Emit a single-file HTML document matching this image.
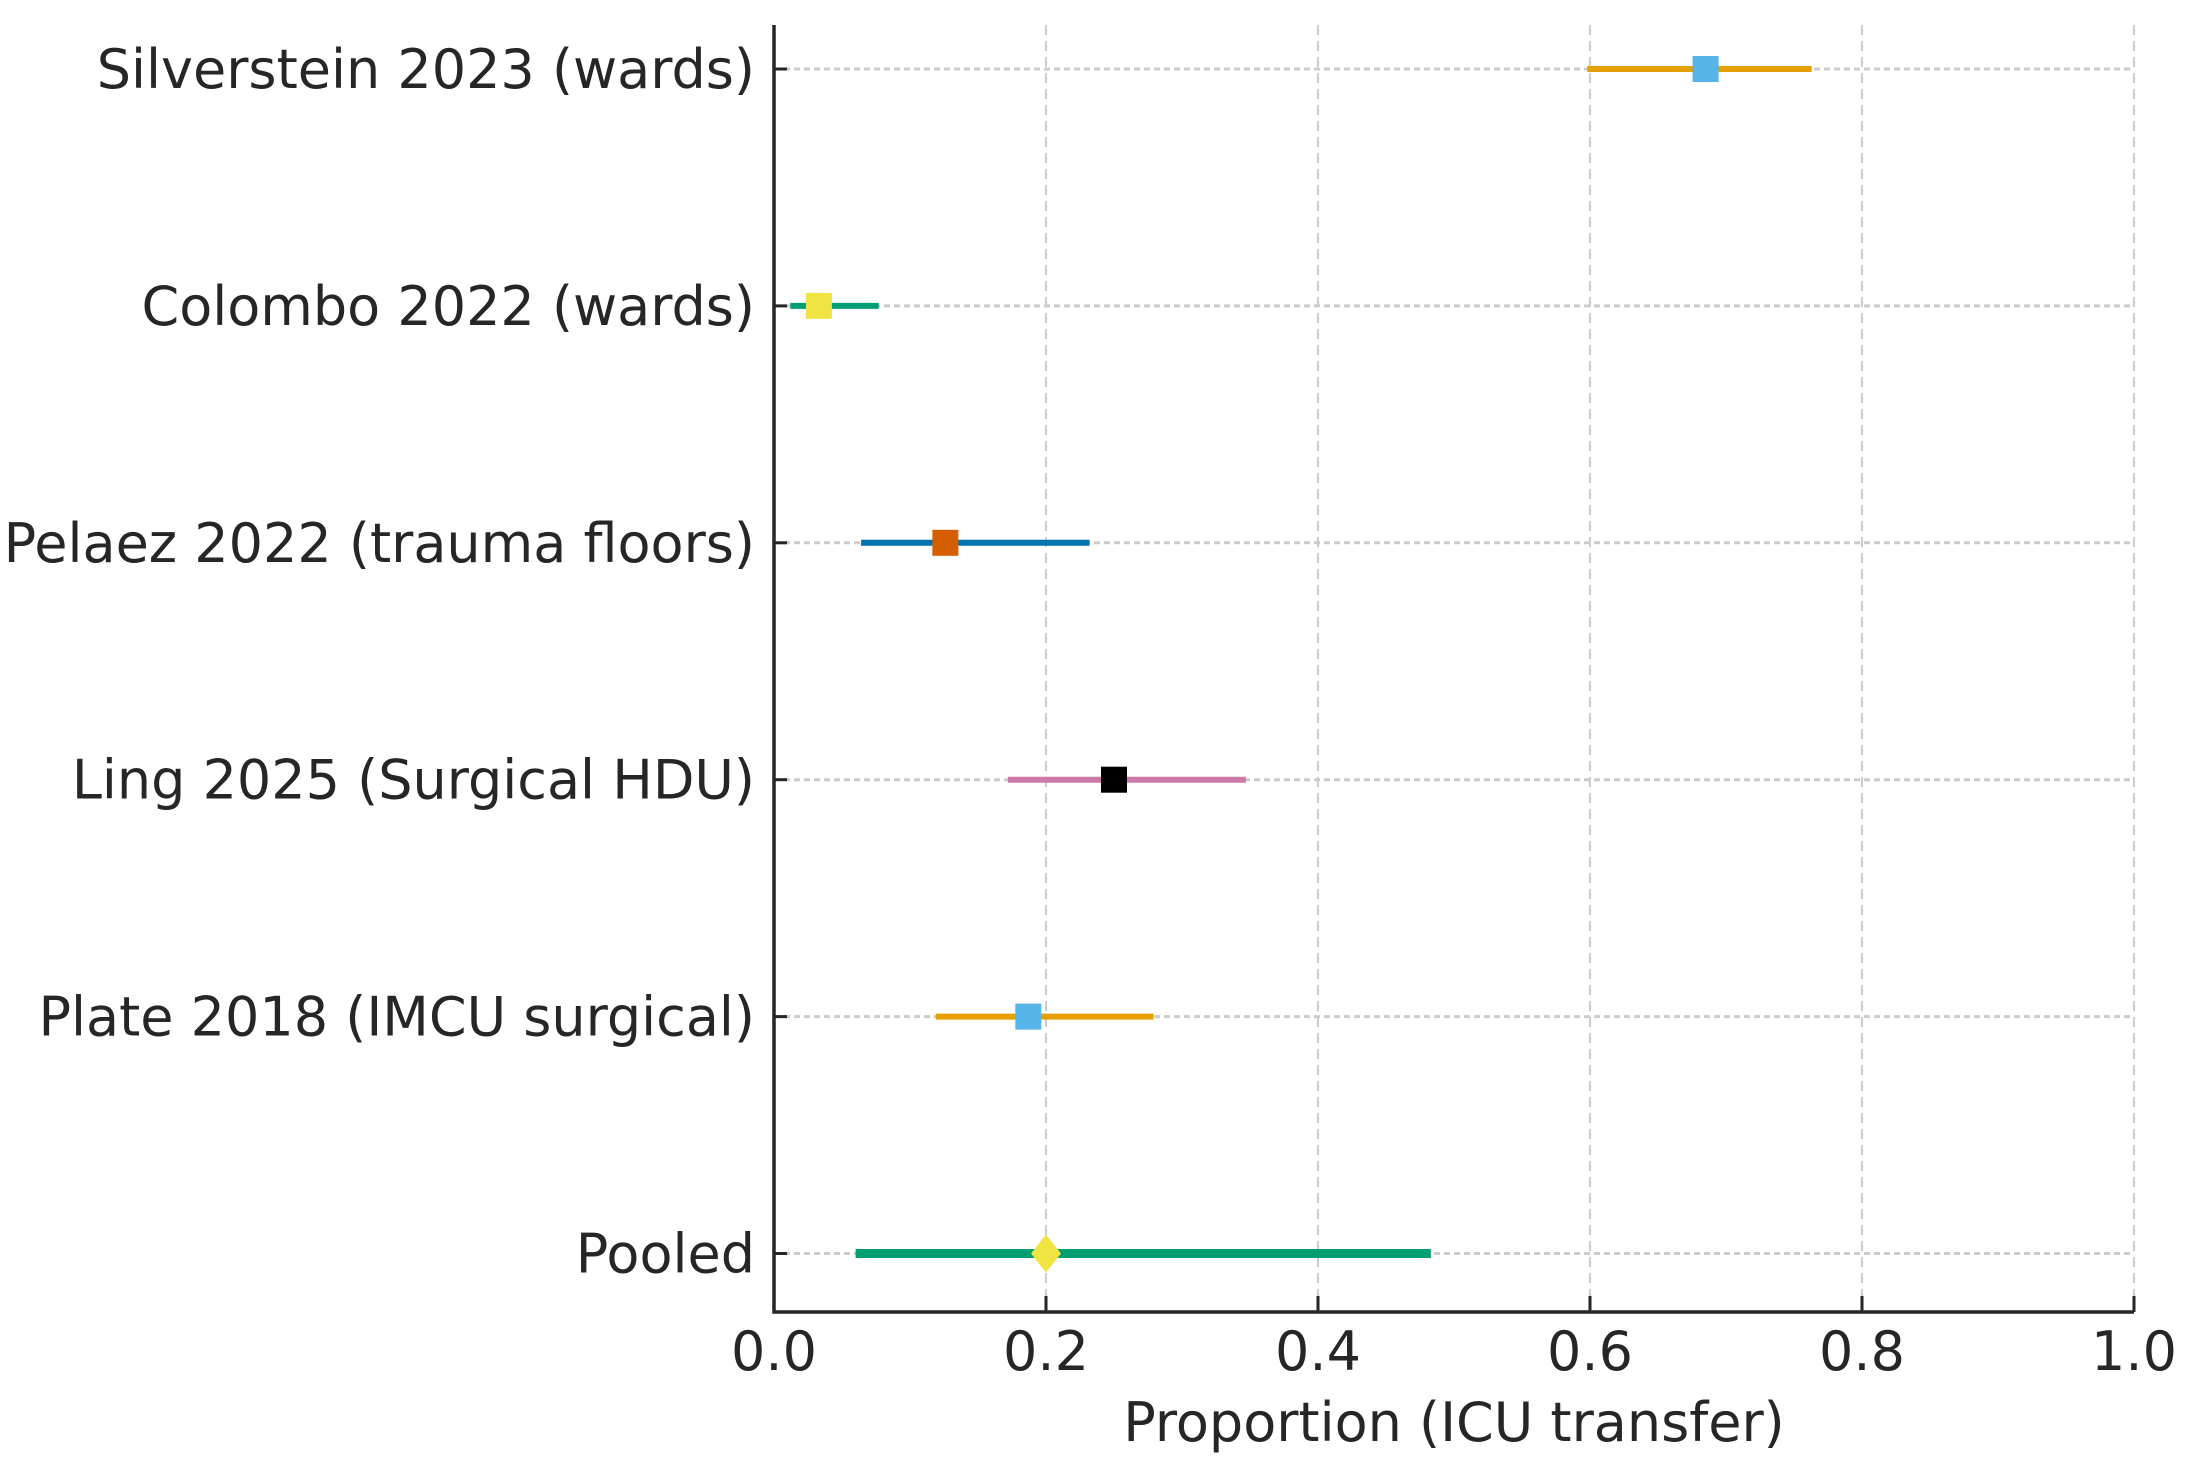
<!DOCTYPE html>
<html><head><meta charset="utf-8"><style>
html,body{margin:0;padding:0;background:#fff;}
svg{display:block;font-family:"DejaVu Sans","Liberation Sans",sans-serif;}
</style></head><body>
<svg id="chart" width="2193" height="1464" viewBox="0 0 2193 1464" xmlns="http://www.w3.org/2000/svg"></svg>
<script>
const studies = ["Silverstein 2023 (wards)","Colombo 2022 (wards)","Pelaez 2022 (trauma floors)","Ling 2025 (Surgical HDU)","Plate 2018 (IMCU surgical)","Pooled"];
const estimates = [0.685,0.033,0.126,0.25,0.187,0.2];
const lowers = [0.598,0.012,0.064,0.172,0.119,0.060];
const uppers = [0.763,0.077,0.232,0.347,0.279,0.483];
const xTicks = [0,0.2,0.4,0.6,0.8,1.0];
const xTickLabels = ["0.0","0.2","0.4","0.6","0.8","1.0"];
const lineColors = ["#E69F00","#009E73","#0072B2","#CC79A7","#E69F00","#009E73"];
const markerColors = ["#56B4E9","#F0E442","#D55E00","#000000","#56B4E9","#F0E442"];

const svg = document.getElementById('chart');
const NS = "http://www.w3.org/2000/svg";
const X0 = 774, X1 = 2134, YT = 25, YB = 1312, ROW0 = 69, ROWSTEP = 236.9;
const xs = v => X0 + (X1 - X0) * v;
const ys = i => ROW0 + ROWSTEP * i;
function mk(tag, attrs, parent) {
  const e = document.createElementNS(NS, tag);
  for (const k in attrs) e.setAttribute(k, attrs[k]);
  (parent || svg).appendChild(e);
  return e;
}
xTicks.forEach((t, i) => {
  const g = mk('line', {x1: xs(t), x2: xs(t), y1: YT, y2: YB, stroke: '#cccccc', 'stroke-width': 2, 'stroke-dasharray': '10,6'});
  
  
});
studies.forEach((s, i) => {
  const g = mk('line', {x1: X0, x2: X1, y1: ys(i), y2: ys(i), stroke: '#cccccc', 'stroke-width': 3, 'stroke-dasharray': '6,4'});
  
  
});
studies.forEach((s, i) => {
  const pooled = i === studies.length - 1;
  const l = mk('line', {x1: xs(lowers[i]), x2: xs(uppers[i]), y1: ys(i), y2: ys(i), stroke: lineColors[i], 'stroke-width': pooled ? 9 : 6});
  
  
  let m;
  const cx = xs(estimates[i]), cy = ys(i);
  if (pooled) {
    m = mk('polygon', {points: `${cx},${cy-19} ${cx+15},${cy} ${cx},${cy+19} ${cx-15},${cy}`, fill: markerColors[i]});
    
  } else {
    m = mk('rect', {x: cx - 13, y: cy - 13, width: 26, height: 26, fill: markerColors[i]});
    
  }
  
  const tk = mk('line', {x1: X0, x2: X0 + 13, y1: cy, y2: cy, stroke: '#262626', 'stroke-width': 3});
  
  
  const t = mk('text', {x: 755, y: cy + 19, 'text-anchor': 'end', 'font-size': 54, fill: '#262626'});
  t.textContent = s;
  
  
});
xTicks.forEach((v, i) => {
  const tk = mk('line', {x1: xs(v), x2: xs(v), y1: YB, y2: YB - 16, stroke: '#262626', 'stroke-width': 3});
  
  
  const t = mk('text', {x: xs(v), y: YB + 58, 'text-anchor': 'middle', 'font-size': 54, fill: '#262626'});
  t.textContent = xTickLabels[i];
  
  
});
const ax = mk('path', {d: `M${X0},${YT} L${X0},${YB} L${X1},${YB}`, fill: 'none', stroke: '#262626', 'stroke-width': 3.5});


const xt = mk('text', {x: (X0 + X1) / 2, y: 1441, 'text-anchor': 'middle', 'font-size': 54, fill: '#262626'});
xt.textContent = 'Proportion (ICU transfer)';


</script>
</body></html>
